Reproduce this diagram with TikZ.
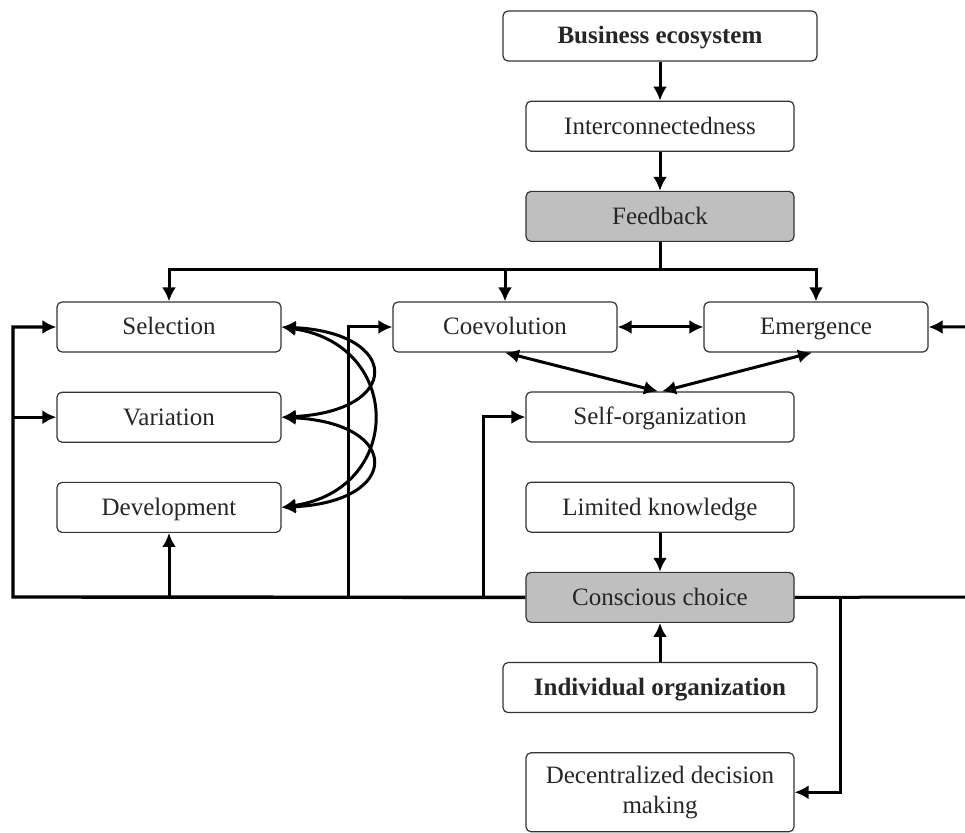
\documentclass[tikz,border=0pt]{standalone}
\usepackage{fontspec}
\setmainfont{Liberation Serif}
\usepackage{tikz}
\usetikzlibrary{arrows.meta,positioning}

\begin{document}
\begin{tikzpicture}[
  x=0.5pt, y=-0.5pt,
  node distance=19.5pt,
  box/.style={draw=black!80, line width=0.6pt, rounded corners=2.5pt, align=center, text=black!85,
    font=\fontsize{12.5}{15}\selectfont, minimum width=134pt, minimum height=25pt, inner sep=2pt,
    text height=9.4pt, text depth=1.4pt},
  sidebox/.style={box, minimum width=112pt},
  grey/.style={fill=black!25},
  arrow/.style={-{Latex[length=7pt,width=7pt]}, line width=1.5pt},
  both/.style={{Latex[length=7pt,width=7pt]}-{Latex[length=7pt,width=7pt]}, line width=1.5pt},
  line/.style={line width=1.5pt}
]
\useasboundingbox (0,0) rectangle (965,833);

\node[box, minimum width=157pt, font=\fontsize{12.5}{15}\selectfont\bfseries] (biz) at (660,36) {Business ecosystem};
\node[box, below=of biz] (inter) {Interconnectedness};
\node[box, grey, below=of inter] (fb) {Feedback};

\node[sidebox] (sel) at (169,327) {Selection};
\node[sidebox, below=of sel] (var) {Variation};
\node[sidebox, below=of var] (dev) {Development};
\node[sidebox] (coev) at (505,327) {Coevolution};
\node[sidebox] (emer) at (816,327) {Emergence};

\node[box] (self) at (660,417) {Self-organization};
\node[box, below=of self] (lim) {Limited knowledge};
\node[box, grey, below=of lim] (cc) {Conscious choice};
\node[box, minimum width=157pt, font=\fontsize{12.5}{15}\selectfont\bfseries, below=of cc] (ind) {Individual organization};
\node[box, text height=, text depth=, minimum height=39.5pt, below=of ind] (dec) {Decentralized decision\\making};

% feedback branches
\coordinate (fbj) at (660,270);
\draw[arrow] (biz) -- (inter);
\draw[arrow] (inter) -- (fb);
\draw[line] (fb) -- (fbj);
\draw[arrow] (fbj) -| (sel);
\draw[arrow] (fbj) -| (emer);
\draw[arrow] (coev.north |- fbj) -- (coev);

\draw[both] (coev) -- (emer);
\draw[both] (coev.south) -- ([xshift=-1pt]self.north);
\draw[both] ([xshift=-2pt]emer.south) -- ([xshift=1pt]self.north);

% selection, variation, development
\draw[both] (sel.east) .. controls +(120,6) and +(120,-6) .. (var.east);
\draw[both] (var.east) .. controls +(120,6) and +(120,-6) .. (dev.east);
\draw[both] (sel.east) .. controls +(122,18) and +(122,-18) .. (dev.east);

% conscious choice
\coordinate (lb) at (13,597);
\coordinate (jc) at (348,597);
\coordinate (js) at (483,597);
\coordinate (jd) at (840,597);
\coordinate (rb) at (972,597);
\draw[arrow] (lim) -- (cc);
\draw[arrow] (ind) -- (cc);
\draw[arrow, line width=1.7pt] (cc.west) -- (lb) |- (sel);
\draw[arrow] (lb |- var) -- (var);
\draw[arrow] (dev.south |- lb) -- (dev);
\draw[arrow] (jc) |- (coev);
\draw[arrow] (js) |- (self);
\draw[arrow] (cc.east) -- (rb) |- (emer);
\draw[arrow] (jd) |- (dec);
\end{tikzpicture}
\end{document}
